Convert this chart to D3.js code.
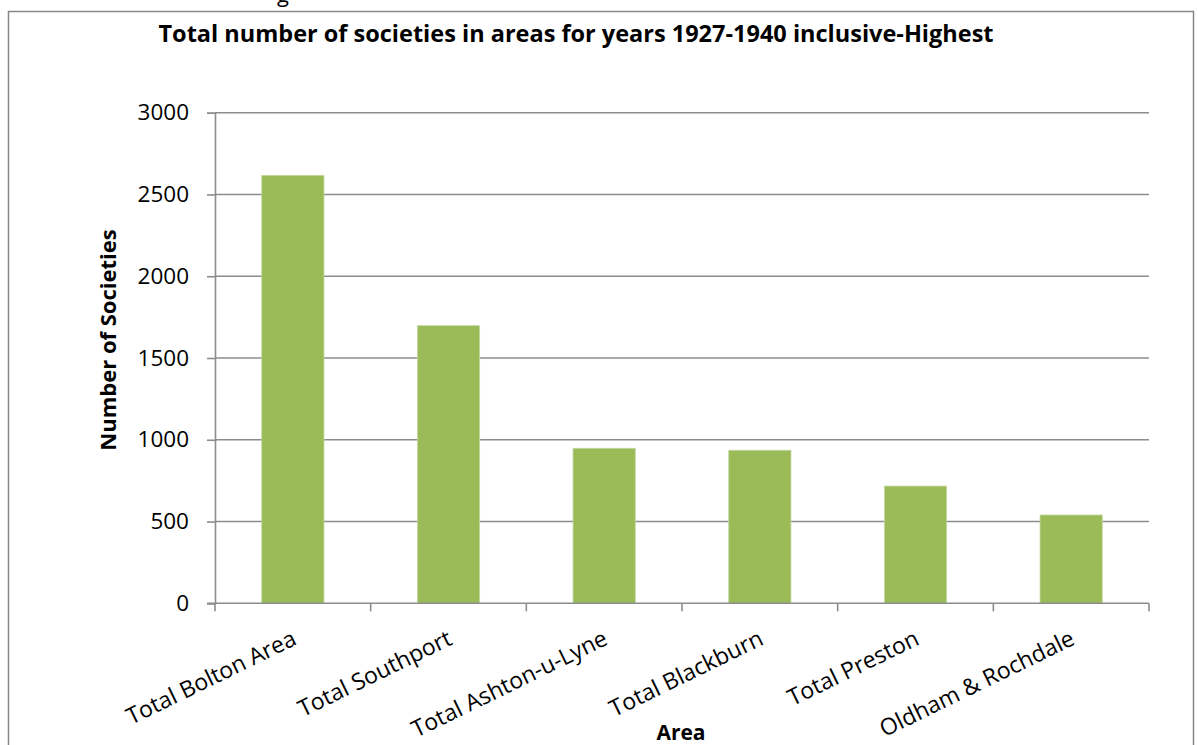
<!DOCTYPE html>
<html>
<head>
<meta charset="utf-8">
<script src="https://cdn.jsdelivr.net/npm/d3@7"></script>
<style>
  html, body { margin: 0; padding: 0; background: #fff; }
  svg { display: block; }
  text { font-family: "Open Sans", "Liberation Sans", sans-serif; fill: #000; }
</style>
</head>
<body>
<svg id="chart" width="1198" height="745"></svg>
<script>
// Societies per area, 1927-1940 inclusive (highest areas)
const areas = ["Total Bolton Area", "Total Southport", "Total Ashton-u-Lyne",
               "Total Blackburn", "Total Preston", "Oldham & Rochdale"];
const societies = [2617, 1698, 948, 936, 717, 540];
const yTicks = [0, 500, 1000, 1500, 2000, 2500, 3000];

const chartTitle = "Total number of societies in areas for years 1927-1940 inclusive-Highest";
const xTitle = "Area";
const yTitle = "Number of Societies";

const svg = d3.select("#chart");
const plot = { left: 215, right: 1149, top: 112.7, bottom: 603.3 };

// fragment of the heading line above the chart frame
svg.append("text")
  .attr("x", 277).attr("y", 2)
  .attr("font-size", 22)
  .text("g");

// outer chart frame
svg.append("rect")
  .attr("x", 8.5).attr("y", 11.5)
  .attr("width", 1185).attr("height", 760)
  .attr("fill", "#fff")
  .attr("stroke", "#868686")
  .attr("stroke-width", 1.5);

const x = d3.scaleBand()
  .domain(areas)
  .range([plot.left, plot.right])
  .paddingInner(0.6)
  .paddingOuter(0.3);

const y = d3.scaleLinear()
  .domain([0, 3000])
  .range([plot.bottom, plot.top]);

// horizontal gridlines
svg.append("g")
  .selectAll("line")
  .data(yTicks.filter(t => t > 0))
  .join("line")
  .attr("x1", plot.left).attr("x2", plot.right)
  .attr("y1", d => y(d)).attr("y2", d => y(d))
  .attr("stroke", "#8c8c8c")
  .attr("stroke-width", 1.6);

// bars
svg.append("g")
  .selectAll("rect")
  .data(areas.map((a, i) => ({ area: a, value: societies[i] })))
  .join("rect")
  .attr("x", d => x(d.area))
  .attr("y", d => y(d.value))
  .attr("width", x.bandwidth())
  .attr("height", d => y(0) - y(d.value))
  .attr("fill", "#9bbb59")
  .attr("stroke", "#c6d9a3")
  .attr("stroke-width", 0.8);

// y axis
const yAxis = svg.append("g")
  .attr("transform", `translate(${plot.left},0)`)
  .call(d3.axisLeft(y).tickValues(yTicks).tickSize(8).tickPadding(18).tickFormat(d3.format("d")));
yAxis.select(".domain").attr("stroke", "#8c8c8c").attr("stroke-width", 1.6);
yAxis.selectAll(".tick line").attr("stroke", "#8c8c8c").attr("stroke-width", 1.6);
yAxis.selectAll(".tick text")
  .attr("font-size", 22.5)
  .attr("font-family", "'Open Sans', sans-serif")
  .attr("fill", "#000");

// x axis: ticks on band boundaries
const xAxis = svg.append("g")
  .attr("transform", `translate(0,${plot.bottom})`);
xAxis.append("line")
  .attr("x1", plot.left - 8).attr("x2", plot.right)
  .attr("stroke", "#8c8c8c").attr("stroke-width", 1.6);
const boundaries = d3.range(areas.length + 1).map(i => plot.left + i * (plot.right - plot.left) / areas.length);
xAxis.selectAll("line.tick")
  .data(boundaries)
  .join("line")
  .attr("class", "tick")
  .attr("x1", d => d).attr("x2", d => d)
  .attr("y1", 0).attr("y2", 8)
  .attr("stroke", "#8c8c8c").attr("stroke-width", 1.6);

// rotated category labels
xAxis.selectAll("text.cat")
  .data(areas)
  .join("text")
  .attr("class", "cat")
  .attr("font-size", 23)
  .attr("text-anchor", "end")
  .attr("transform", d => `translate(${x(d) + x.bandwidth() / 2 - 2},${26}) rotate(-26)`)
  .attr("dy", "0.7em")
  .text(d => d);

// titles
svg.append("text")
  .attr("x", 576).attr("y", 42)
  .attr("text-anchor", "middle")
  .attr("font-size", 23.5)
  .attr("font-weight", "bold")
  .text(chartTitle);

svg.append("text")
  .attr("x", 681).attr("y", 740)
  .attr("text-anchor", "middle")
  .attr("font-size", 21)
  .attr("font-weight", "bold")
  .text(xTitle);

svg.append("text")
  .attr("transform", "translate(116,340) rotate(-90)")
  .attr("text-anchor", "middle")
  .attr("font-size", 22)
  .attr("font-weight", "bold")
  .text(yTitle);
</script>
</body>
</html>
